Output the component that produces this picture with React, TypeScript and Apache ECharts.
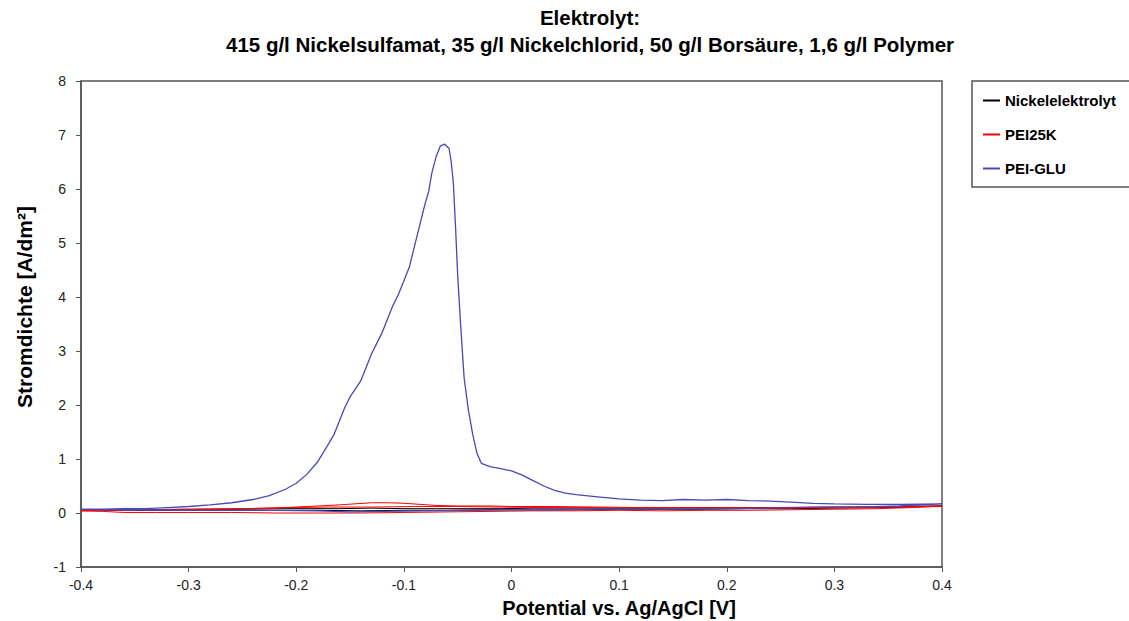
import React, { useEffect, useRef } from "react";
import * as echarts from "echarts";

const titleLines = [
  "Elektrolyt:",
  "415 g/l Nickelsulfamat, 35 g/l Nickelchlorid, 50 g/l Borsäure, 1,6 g/l Polymer",
];
const xAxisTitle = "Potential vs. Ag/AgCl [V]";
const yAxisTitle = "Stromdichte [A/dm²]";
const seriesNames = ["Nickelelektrolyt", "PEI25K", "PEI-GLU"];
const seriesColors = ["#000000", "#ff0000", "#4848b8"];

// Nickelelektrolyt: forward scan then reverse scan [potential V, current density A/dm²]
const nickelData: number[][] = [
  [-0.4, 0.05], [-0.37, 0.06], [-0.34, 0.06], [-0.31, 0.07], [-0.28, 0.07],
  [-0.25, 0.07], [-0.22, 0.08], [-0.19, 0.08], [-0.16, 0.08], [-0.13, 0.09],
  [-0.1, 0.08], [-0.07, 0.08], [-0.04, 0.08], [-0.01, 0.08], [0.02, 0.09],
  [0.06, 0.09], [0.1, 0.09], [0.14, 0.09], [0.18, 0.1], [0.22, 0.1],
  [0.26, 0.1], [0.3, 0.11], [0.34, 0.11], [0.37, 0.12], [0.4, 0.13],
  [0.37, 0.11], [0.34, 0.1], [0.3, 0.09], [0.26, 0.08], [0.22, 0.08],
  [0.18, 0.07], [0.14, 0.07], [0.1, 0.07], [0.06, 0.06], [0.02, 0.06],
  [-0.02, 0.06], [-0.06, 0.05], [-0.1, 0.05], [-0.14, 0.04], [-0.18, 0.05],
  [-0.22, 0.05], [-0.26, 0.05], [-0.3, 0.05], [-0.34, 0.05], [-0.37, 0.05],
  [-0.4, 0.05],
];

// PEI25K: first forward scan (small bump), reverse scan, second forward scan
const pei25kData: number[][] = [
  [-0.4, 0.05], [-0.37, 0.05], [-0.34, 0.06], [-0.31, 0.06], [-0.28, 0.07],
  [-0.25, 0.08], [-0.22, 0.09], [-0.2, 0.11], [-0.18, 0.13], [-0.16, 0.15],
  [-0.145, 0.17], [-0.13, 0.19], [-0.115, 0.19], [-0.1, 0.18], [-0.085, 0.16],
  [-0.07, 0.14], [-0.05, 0.13], [-0.02, 0.13], [0.0, 0.12], [0.04, 0.12],
  [0.08, 0.11], [0.12, 0.1], [0.16, 0.1], [0.2, 0.1], [0.24, 0.1],
  [0.28, 0.11], [0.32, 0.11], [0.36, 0.12], [0.4, 0.13],
  [0.37, 0.1], [0.34, 0.08], [0.3, 0.07], [0.26, 0.06], [0.22, 0.05],
  [0.18, 0.05], [0.14, 0.04], [0.1, 0.05], [0.06, 0.04], [0.02, 0.04],
  [-0.02, 0.03], [-0.06, 0.02], [-0.1, 0.01], [-0.14, 0.0], [-0.18, 0.0],
  [-0.22, 0.0], [-0.26, 0.01], [-0.3, 0.01], [-0.33, 0.01], [-0.36, 0.01],
  [-0.38, 0.03], [-0.4, 0.04],
  [-0.37, 0.05], [-0.33, 0.06], [-0.29, 0.07], [-0.25, 0.08], [-0.21, 0.1],
  [-0.17, 0.11], [-0.13, 0.11], [-0.09, 0.12], [-0.05, 0.12], [-0.01, 0.11],
  [0.03, 0.1], [0.08, 0.1], [0.14, 0.09], [0.2, 0.09], [0.26, 0.1],
  [0.32, 0.1], [0.36, 0.11], [0.4, 0.12],
];

// PEI-GLU: forward scan with stripping peak, then reverse scan near baseline
const peiGluData: number[][] = [
  [-0.4, 0.07], [-0.38, 0.07], [-0.36, 0.08], [-0.34, 0.08], [-0.32, 0.1],
  [-0.3, 0.12], [-0.28, 0.15], [-0.26, 0.19], [-0.24, 0.25], [-0.225, 0.32],
  [-0.21, 0.44], [-0.2, 0.55], [-0.19, 0.72], [-0.18, 0.95], [-0.17, 1.28],
  [-0.165, 1.45], [-0.16, 1.7], [-0.155, 1.95], [-0.15, 2.15], [-0.145, 2.3],
  [-0.14, 2.45], [-0.135, 2.7], [-0.13, 2.95], [-0.125, 3.15], [-0.12, 3.35],
  [-0.115, 3.6], [-0.11, 3.85], [-0.105, 4.05], [-0.1, 4.3], [-0.095, 4.55],
  [-0.09, 4.95], [-0.085, 5.35], [-0.08, 5.75], [-0.077, 5.95], [-0.074, 6.3],
  [-0.07, 6.6], [-0.066, 6.8], [-0.062, 6.83], [-0.058, 6.75], [-0.056, 6.5],
  [-0.054, 6.1], [-0.052, 5.3], [-0.05, 4.4], [-0.047, 3.4], [-0.044, 2.5],
  [-0.04, 1.9], [-0.036, 1.45], [-0.032, 1.1], [-0.028, 0.92], [-0.02, 0.86],
  [-0.01, 0.82], [0.0, 0.78], [0.01, 0.7], [0.02, 0.6], [0.03, 0.5],
  [0.04, 0.42], [0.05, 0.37], [0.06, 0.34], [0.08, 0.3], [0.1, 0.26],
  [0.12, 0.24], [0.14, 0.23], [0.16, 0.25], [0.18, 0.24], [0.2, 0.25],
  [0.22, 0.23], [0.24, 0.22], [0.26, 0.2], [0.28, 0.18], [0.3, 0.17],
  [0.33, 0.16], [0.36, 0.16], [0.4, 0.17],
  [0.36, 0.13], [0.32, 0.11], [0.28, 0.1], [0.24, 0.09], [0.2, 0.08],
  [0.16, 0.08], [0.12, 0.07], [0.08, 0.07], [0.04, 0.06], [0.0, 0.06],
  [-0.04, 0.05], [-0.08, 0.04], [-0.12, 0.03], [-0.15, 0.02], [-0.18, 0.04],
  [-0.22, 0.05], [-0.26, 0.05], [-0.3, 0.05], [-0.34, 0.06], [-0.38, 0.06],
  [-0.4, 0.07],
];

const allData = [nickelData, pei25kData, peiGluData];

const FONT = "Arial, 'Liberation Sans', sans-serif";
const FRAME = "#555555";

export default function App() {
  const ref = useRef<HTMLDivElement>(null);

  useEffect(() => {
    if (!ref.current) return;
    const chart = echarts.init(ref.current, null, { renderer: "svg" });
    chart.setOption({
      animation: false,
      backgroundColor: "#ffffff",
      title: {
        text: titleLines.join("\n"),
        left: 590,
        top: 4,
        padding: 0,
        textAlign: "center",
        textStyle: {
          fontFamily: FONT,
          fontSize: 20.5,
          fontWeight: "bold",
          color: "#000",
          lineHeight: 27,
        },
      },
      legend: {
        orient: "vertical",
        left: 972,
        top: 81,
        padding: [12, 30, 11, 11],
        itemGap: 19,
        itemWidth: 17,
        itemHeight: 2,
        icon: "rect",
        borderColor: FRAME,
        borderWidth: 1.5,
        textStyle: {
          fontFamily: FONT,
          fontSize: 15,
          fontWeight: "bold",
          color: "#000",
        },
        data: seriesNames,
      },
      grid: {
        left: 81,
        top: 81,
        width: 861,
        height: 486,
        show: true,
        borderColor: FRAME,
        borderWidth: 1.5,
        backgroundColor: "#ffffff",
        containLabel: false,
        outerBoundsMode: "none",
      },
      xAxis: {
        type: "value",
        min: -0.4,
        max: 0.4,
        interval: 0.1,
        name: xAxisTitle,
        nameLocation: "middle",
        nameGap: 31,
        nameTextStyle: {
          fontFamily: FONT,
          fontSize: 20,
          fontWeight: "bold",
          color: "#000",
          padding: [0, 0, 0, 215],
        },
        axisLine: { onZero: false, lineStyle: { color: FRAME, width: 1.5 } },
        axisTick: { show: true, inside: false, length: 5, lineStyle: { color: FRAME } },
        axisLabel: {
          fontFamily: FONT,
          fontSize: 14,
          color: "#222",
          margin: 11,
          formatter: (v: number) => String(Number(v.toFixed(1))),
        },
        splitLine: { show: false },
      },
      yAxis: {
        type: "value",
        min: -1,
        max: 8,
        interval: 1,
        name: yAxisTitle,
        nameLocation: "middle",
        nameRotate: 90,
        nameGap: 46,
        nameTextStyle: {
          fontFamily: FONT,
          fontSize: 21,
          fontWeight: "bold",
          color: "#000",
          padding: [0, 0, 0, 34],
        },
        axisLine: { onZero: false, lineStyle: { color: FRAME, width: 1.5 } },
        axisTick: { show: true, inside: false, length: 5, lineStyle: { color: FRAME } },
        axisLabel: {
          fontFamily: FONT,
          fontSize: 14,
          color: "#222",
          margin: 15,
        },
        splitLine: { show: false },
      },
      series: seriesNames.map((name, i) => ({
        name,
        type: "line",
        data: allData[i],
        showSymbol: false,
        symbol: "none",
        smooth: false,
        color: seriesColors[i],
        lineStyle: { color: seriesColors[i], width: i === 2 ? 1.3 : 1 },
        z: 2 + i,
      })),
    });
    return () => chart.dispose();
  }, []);

  return (
    <div
      ref={ref}
      style={{ position: "fixed", left: 0, top: 0, width: 1129, height: 621 }}
    />
  );
}
